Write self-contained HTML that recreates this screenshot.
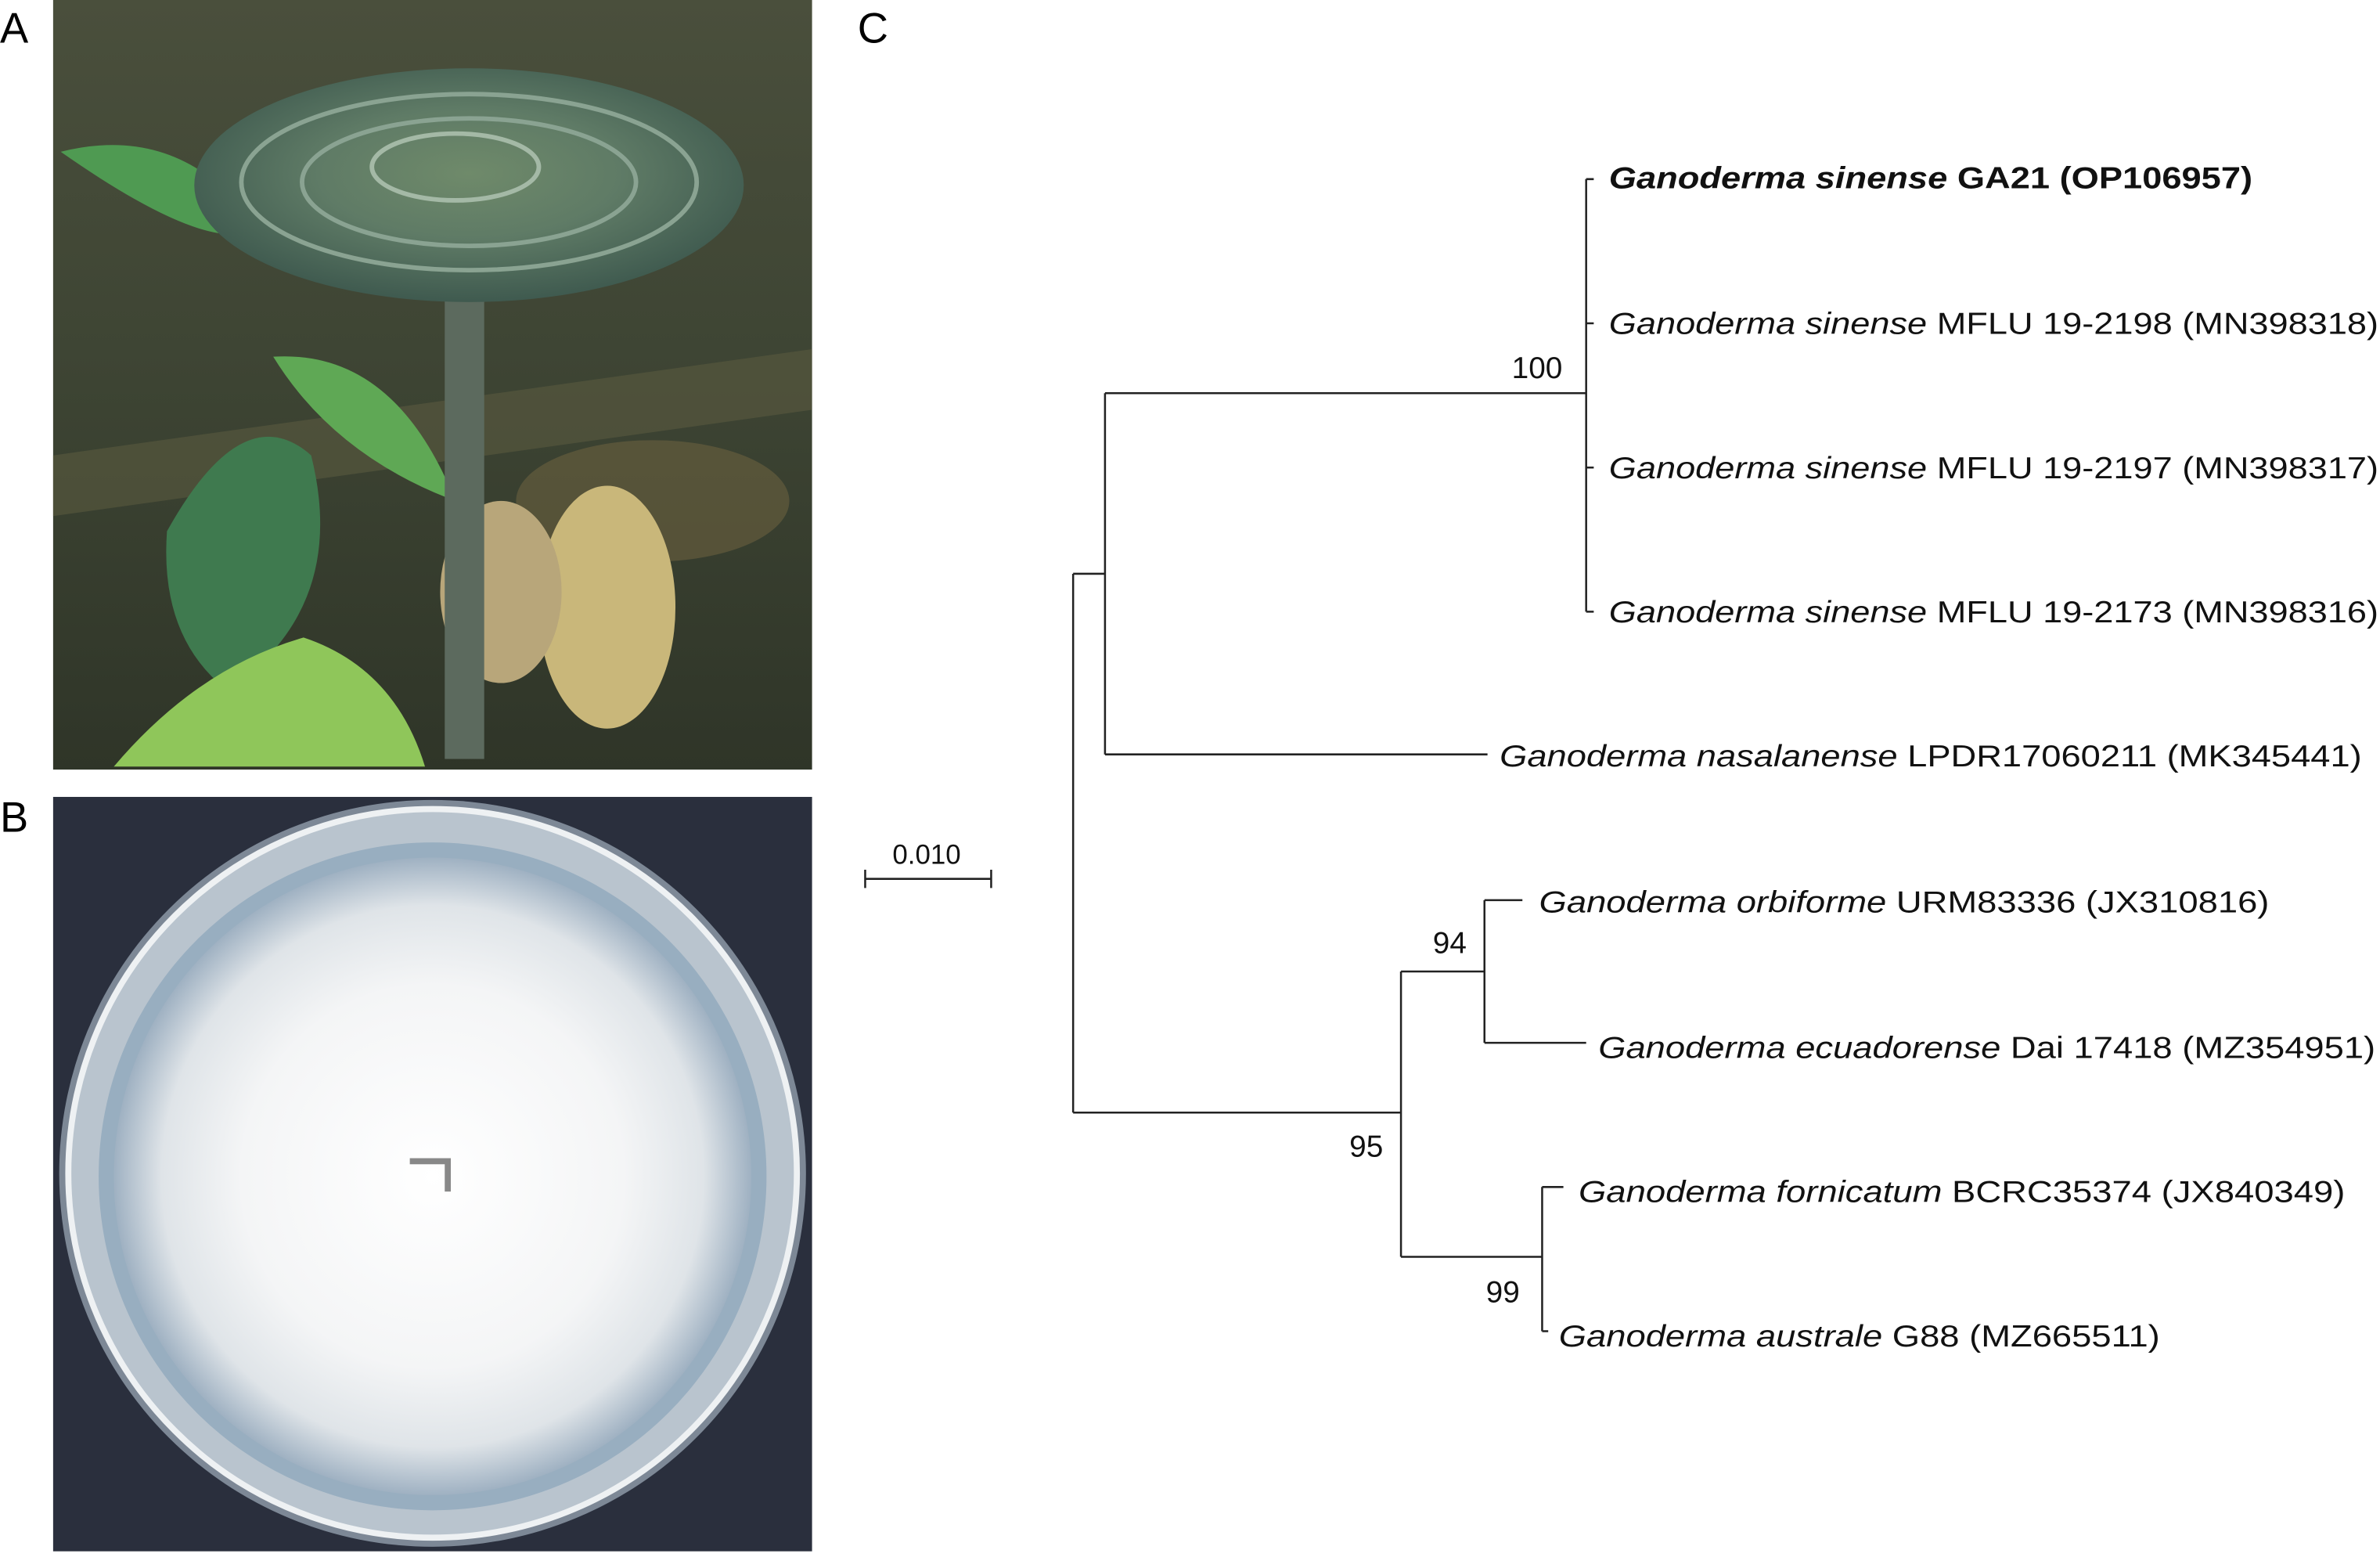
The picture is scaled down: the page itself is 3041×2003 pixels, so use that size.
<!DOCTYPE html>
<html><head><meta charset="utf-8"><style>
html,body{margin:0;padding:0;background:#fff;}
svg{display:block;}
text{font-family:"Liberation Sans",sans-serif;}
</style></head><body>
<svg width="3041" height="2003" viewBox="0 0 1568 1033" preserveAspectRatio="none" xmlns="http://www.w3.org/2000/svg">
<defs>
<radialGradient id="myc" cx="0.5" cy="0.5" r="0.5">
<stop offset="0" stop-color="#ffffff"/><stop offset="0.6" stop-color="#f4f5f6"/><stop offset="0.85" stop-color="#dfe4e8"/><stop offset="1" stop-color="#9fb1c2"/></radialGradient>
<radialGradient id="cap" cx="0.5" cy="0.45" r="0.55">
<stop offset="0" stop-color="#6f8a6a"/><stop offset="0.5" stop-color="#5f7b66"/><stop offset="1" stop-color="#3f5a4f"/></radialGradient>
<linearGradient id="bg" x1="0" y1="0" x2="0" y2="1">
<stop offset="0" stop-color="#4a4f3c"/><stop offset="0.5" stop-color="#3d4433"/><stop offset="1" stop-color="#2f3528"/></linearGradient>
</defs>
<rect width="1568" height="1033" fill="#fff"/>
<!-- Panel A -->
<text x="0" y="28" font-size="28">A</text>
<rect x="35" y="0" width="500" height="507" fill="url(#bg)"/>
<path d="M35 300 L535 230 L535 270 L35 340Z" fill="#5a5a40" opacity="0.6"/>
<ellipse cx="430" cy="330" rx="90" ry="40" fill="#6a6040" opacity="0.6"/>
<ellipse cx="400" cy="400" rx="45" ry="80" fill="#c9b77a"/>
<ellipse cx="330" cy="390" rx="40" ry="60" fill="#b8a67a"/>
<path d="M40 100 Q120 80 170 150 Q140 170 40 100Z" fill="#4f9a52"/>
<path d="M180 235 Q260 230 300 330 Q220 300 180 235Z" fill="#5fa855"/>
<path d="M110 350 Q160 260 205 300 Q230 400 150 455 Q105 420 110 350Z" fill="#3f7a4f"/>
<path d="M75 505 Q130 440 200 420 Q260 440 280 505Z" fill="#8fc65a"/>
<rect x="293" y="180" width="26" height="320" fill="#5c6a5e"/>
<ellipse cx="309" cy="122" rx="181" ry="77" fill="url(#cap)"/>
<ellipse cx="309" cy="120" rx="150" ry="58" fill="none" stroke="#8aa392" stroke-width="3"/>
<ellipse cx="309" cy="120" rx="110" ry="42" fill="none" stroke="#8aa392" stroke-width="3"/>
<ellipse cx="300" cy="110" rx="55" ry="22" fill="none" stroke="#a4b9a6" stroke-width="3"/>
<!-- Panel B -->
<text x="0" y="548" font-size="28">B</text>
<rect x="35" y="525" width="500" height="497" fill="#2a2f3d"/>
<circle cx="285" cy="773" r="246" fill="#7d8896"/>
<circle cx="285" cy="773" r="240" fill="#b9c4ce"/>
<circle cx="285" cy="773" r="240" fill="none" stroke="#eef1f3" stroke-width="4"/>
<circle cx="285" cy="775" r="220" fill="#98aec0"/>
<circle cx="285" cy="775" r="210" fill="url(#myc)"/>
<path d="M270 765 L295 765 L295 785" fill="none" stroke="#888" stroke-width="4"/>
<!-- Panel C -->
<text x="565" y="28" font-size="28">C</text>
<g stroke="#222" stroke-width="1.3" fill="none">
<path d="M707 378 V733 M707 378 H728 M728 259 V497 M728 259 H1045 M728 497 H980"/>
<path d="M1045 118 V403 M1045 118 H1050 M1045 213 H1050 M1045 308 H1050 M1045 403 H1050"/>
<path d="M707 733 H923 M923 640 V828 M923 640 H978 M978 593 V687 M978 593 H1003 M978 687 H1045"/>
<path d="M923 828 H1016 M1016 782 V877 M1016 782 H1030 M1016 877 H1020"/>
<path d="M570 579 H653 M570 573 V585 M653 573 V585"/>
</g>
<g font-size="20" fill="#111">
<text x="996" y="249">100</text>
<text x="944" y="628">94</text>
<text x="889" y="762">95</text>
<text x="979" y="858">99</text>
<text x="588" y="569" font-size="18">0.010</text>
<text x="1060" y="124" font-weight="bold" textLength="424" lengthAdjust="spacingAndGlyphs"><tspan font-style="italic">Ganoderma sinense</tspan> GA21 (OP106957)</text>
<text x="1060" y="220" textLength="507" lengthAdjust="spacingAndGlyphs"><tspan font-style="italic">Ganoderma sinense</tspan> MFLU 19-2198 (MN398318)</text>
<text x="1060" y="315" textLength="507" lengthAdjust="spacingAndGlyphs"><tspan font-style="italic">Ganoderma sinense</tspan> MFLU 19-2197 (MN398317)</text>
<text x="1060" y="410" textLength="507" lengthAdjust="spacingAndGlyphs"><tspan font-style="italic">Ganoderma sinense</tspan> MFLU 19-2173 (MN398316)</text>
<text x="988" y="505" textLength="568" lengthAdjust="spacingAndGlyphs"><tspan font-style="italic">Ganoderma nasalanense</tspan> LPDR17060211 (MK345441)</text>
<text x="1014" y="601" textLength="481" lengthAdjust="spacingAndGlyphs"><tspan font-style="italic">Ganoderma orbiforme</tspan> URM83336 (JX310816)</text>
<text x="1053" y="697" textLength="512" lengthAdjust="spacingAndGlyphs"><tspan font-style="italic">Ganoderma ecuadorense</tspan> Dai 17418 (MZ354951)</text>
<text x="1040" y="792" textLength="505" lengthAdjust="spacingAndGlyphs"><tspan font-style="italic">Ganoderma fornicatum</tspan> BCRC35374 (JX840349)</text>
<text x="1027" y="887" textLength="396" lengthAdjust="spacingAndGlyphs"><tspan font-style="italic">Ganoderma australe</tspan> G88 (MZ665511)</text>
</g>
</svg>
</body></html>
